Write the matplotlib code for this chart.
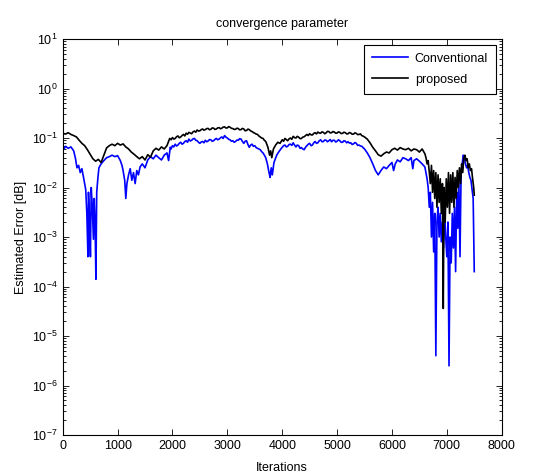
import numpy as np
import matplotlib
matplotlib.use("Agg")
import matplotlib.pyplot as plt
from matplotlib.ticker import LogLocator, NullFormatter

plt.rcParams['font.family'] = ['Liberation Sans Narrow', 'Liberation Sans', 'DejaVu Sans']

# ---------------- data ----------------
# proposed (black)
prop_x_start = [0, 50, 100, 150, 200, 250, 300, 350, 400, 450, 500, 550, 600, 650, 700, 750, 800, 850, 900,
                950, 1000, 1050, 1100, 1150, 1200, 1250, 1300, 1350, 1400, 1450, 1500, 1550, 1600, 1650,
                1700, 1750, 1800, 1850, 1900]
prop_y_start = [0.125, 0.12, 0.128, 0.118, 0.112, 0.105, 0.09, 0.078, 0.07, 0.058, 0.047, 0.038, 0.034,
                0.037, 0.032, 0.045, 0.063, 0.07, 0.075, 0.07, 0.078, 0.072, 0.076, 0.066, 0.06, 0.052,
                0.047, 0.042, 0.038, 0.042, 0.036, 0.046, 0.041, 0.055, 0.062, 0.057, 0.066, 0.06, 0.07]
prop_x_hump = [1950, 1975, 2000, 2025, 2050, 2075, 2100, 2125, 2150, 2175, 2200, 2225, 2250, 2275, 2300,
               2325, 2350, 2375, 2400, 2425, 2450, 2475, 2500, 2525, 2550, 2575, 2600, 2625, 2650, 2675,
               2700, 2725, 2750, 2775, 2800, 2825, 2850, 2875, 2900, 2925, 2950, 2975, 3000, 3025, 3050,
               3075, 3100, 3125, 3150, 3175, 3200, 3225, 3250, 3275, 3300, 3325, 3350, 3375, 3400, 3425,
               3450, 3475, 3500, 3525, 3550, 3575, 3600, 3625, 3650, 3675, 3700]
prop_y_hump = [0.098, 0.092, 0.102, 0.095, 0.098, 0.106, 0.11, 0.101, 0.105, 0.112, 0.118, 0.11, 0.125,
               0.119, 0.13, 0.126, 0.122, 0.133, 0.138, 0.131, 0.145, 0.138, 0.14, 0.148, 0.152, 0.144,
               0.148, 0.155, 0.156, 0.147, 0.15, 0.16, 0.158, 0.149, 0.152, 0.16, 0.162, 0.154, 0.158,
               0.166, 0.168, 0.159, 0.16, 0.17, 0.165, 0.157, 0.155, 0.149, 0.15, 0.158, 0.155, 0.146,
               0.148, 0.156, 0.152, 0.14, 0.142, 0.151, 0.148, 0.139, 0.135, 0.129, 0.125, 0.12, 0.118,
               0.11, 0.105, 0.1, 0.098, 0.09, 0.085]
prop_x_dip = [3740, 3770, 3790, 3810, 3840, 3880, 3920]
prop_y_dip = [0.065, 0.045, 0.055, 0.04, 0.06, 0.072, 0.082]
prop_x_plat = [3960, 3980, 4000, 4025, 4050, 4075, 4100, 4125, 4150, 4175, 4200, 4225, 4250, 4275, 4300,
               4325, 4350, 4375, 4400, 4425, 4450, 4475, 4500, 4525, 4550, 4575, 4600, 4625, 4650, 4675,
               4700, 4725, 4750, 4775, 4800, 4825, 4850, 4875, 4900, 4925, 4950, 4975, 5000, 5025, 5050,
               5075, 5100, 5125, 5150, 5175, 5200, 5225, 5250, 5275, 5300, 5325, 5350, 5375, 5400, 5425,
               5450, 5475, 5500, 5525, 5550]
prop_y_plat = [0.078, 0.085, 0.092, 0.086, 0.098, 0.093, 0.088, 0.096, 0.1, 0.094, 0.108, 0.102, 0.1,
               0.108, 0.104, 0.097, 0.098, 0.104, 0.106, 0.112, 0.118, 0.112, 0.122, 0.116, 0.115, 0.124,
               0.128, 0.121, 0.132, 0.126, 0.125, 0.133, 0.13, 0.122, 0.127, 0.136, 0.135, 0.127, 0.128,
               0.135, 0.132, 0.125, 0.126, 0.133, 0.13, 0.123, 0.124, 0.131, 0.128, 0.121, 0.122, 0.129,
               0.126, 0.119, 0.12, 0.127, 0.124, 0.117, 0.118, 0.121, 0.112, 0.109, 0.105, 0.1, 0.095]
prop_x_tail = [5600, 5650, 5700, 5750, 5800, 5850, 5900, 5950, 6000, 6050, 6100, 6150, 6200, 6250, 6300,
               6350, 6400, 6450, 6500, 6550, 6600, 6620, 6640, 6660, 6680, 6700, 6720, 6740, 6760, 6780,
               6800, 6820, 6840, 6860, 6880, 6900, 6920, 6935, 6950, 6970, 6990, 7010, 7030, 7050, 7070,
               7090, 7110, 7130, 7150, 7170, 7190, 7210, 7230, 7250, 7270, 7290, 7310, 7330, 7350, 7370,
               7390, 7410, 7430, 7450, 7470, 7490, 7500]
prop_y_tail = [0.08, 0.065, 0.055, 0.046, 0.043, 0.048, 0.052, 0.05, 0.058, 0.062, 0.057, 0.064, 0.06,
               0.058, 0.062, 0.055, 0.06, 0.058, 0.052, 0.06, 0.048, 0.04, 0.03, 0.035, 0.02, 0.012, 0.028,
               0.008, 0.022, 0.006, 0.02, 0.004, 0.018, 0.005, 0.015, 0.003, 0.012, 3.6e-5, 0.01, 0.002,
               0.015, 0.004, 0.02, 0.003, 0.018, 0.005, 0.02, 0.004, 0.016, 0.006, 0.022, 0.01, 0.025,
               0.012, 0.03, 0.02, 0.04, 0.045, 0.035, 0.038, 0.025, 0.03, 0.022, 0.024, 0.015, 0.01, 0.007]

# conventional (blue)
conv_x_start = [0, 25, 50, 100, 150, 200, 230, 260, 290, 320, 350, 380, 400, 420, 440, 460, 470, 490, 505,
                520, 540, 560, 575, 590, 605, 620, 640, 660, 700, 750, 800, 850, 900, 950, 1000, 1050, 1080,
                1100, 1130, 1150, 1170, 1200, 1230, 1260, 1290, 1320, 1350, 1380, 1410, 1450, 1500, 1550,
                1600, 1650, 1700, 1750, 1800, 1850, 1900, 1930]
conv_y_start = [0.065, 0.06, 0.068, 0.062, 0.066, 0.055, 0.04, 0.025, 0.028, 0.02, 0.024, 0.016, 0.012,
                0.009, 0.003, 0.0004, 0.008, 0.002, 0.0004, 0.01, 0.004, 0.0009, 0.006, 0.002, 0.00014,
                0.008, 0.015, 0.025, 0.03, 0.035, 0.04, 0.042, 0.045, 0.042, 0.044, 0.035, 0.028, 0.022,
                0.014, 0.006, 0.012, 0.018, 0.024, 0.014, 0.02, 0.012, 0.022, 0.018, 0.026, 0.03, 0.025,
                0.036, 0.042, 0.038, 0.045, 0.04, 0.036, 0.045, 0.05, 0.035]
conv_x_hump = [1960, 1975, 2000, 2025, 2050, 2075, 2100, 2125, 2150, 2175, 2200, 2225, 2250, 2275, 2300,
               2325, 2350, 2375, 2400, 2425, 2450, 2475, 2500, 2525, 2550, 2575, 2600, 2625, 2650, 2675,
               2700, 2725, 2750, 2775, 2800, 2825, 2850, 2875, 2900, 2925, 2950, 2975, 3000, 3025, 3050,
               3075, 3100, 3125, 3150, 3175, 3200, 3225, 3250, 3275, 3300, 3325, 3350, 3375, 3400, 3425,
               3450, 3475, 3500, 3525, 3550, 3575, 3600, 3625, 3650, 3675, 3700]
conv_y_hump = [0.065, 0.06, 0.07, 0.066, 0.075, 0.069, 0.072, 0.078, 0.082, 0.075, 0.078, 0.085, 0.088,
               0.082, 0.095, 0.087, 0.09, 0.096, 0.098, 0.09, 0.088, 0.082, 0.078, 0.083, 0.085, 0.08,
               0.09, 0.084, 0.087, 0.093, 0.092, 0.086, 0.088, 0.094, 0.098, 0.092, 0.095, 0.101, 0.105,
               0.098, 0.112, 0.104, 0.1, 0.094, 0.092, 0.086, 0.088, 0.082, 0.085, 0.091, 0.09, 0.097,
               0.095, 0.085, 0.078, 0.086, 0.088, 0.074, 0.065, 0.072, 0.075, 0.068, 0.07, 0.064, 0.062,
               0.06, 0.058, 0.053, 0.05, 0.045, 0.04]
conv_x_dip = [3730, 3760, 3780, 3800, 3820, 3850]
conv_y_dip = [0.03, 0.02, 0.016, 0.025, 0.018, 0.032]
conv_x_plat = [3900, 3925, 3950, 3975, 4000, 4025, 4050, 4075, 4100, 4125, 4150, 4175, 4200, 4225, 4250,
               4275, 4300, 4325, 4350, 4375, 4400, 4425, 4450, 4475, 4500, 4525, 4550, 4575, 4600, 4625,
               4650, 4675, 4700, 4725, 4750, 4775, 4800, 4825, 4850, 4875, 4900, 4925, 4950, 4975, 5000,
               5025, 5050, 5075, 5100, 5125, 5150, 5175, 5200, 5225, 5250, 5275, 5300, 5325, 5350, 5375,
               5400, 5425, 5450, 5475, 5500, 5525, 5550]
conv_y_plat = [0.045, 0.05, 0.055, 0.06, 0.065, 0.07, 0.072, 0.066, 0.068, 0.074, 0.075, 0.071, 0.08,
               0.072, 0.066, 0.072, 0.07, 0.062, 0.064, 0.06, 0.058, 0.065, 0.07, 0.075, 0.078, 0.07,
               0.072, 0.08, 0.085, 0.078, 0.08, 0.088, 0.092, 0.084, 0.085, 0.091, 0.09, 0.084, 0.088,
               0.093, 0.084, 0.09, 0.09, 0.083, 0.086, 0.092, 0.088, 0.082, 0.082, 0.088, 0.086, 0.08,
               0.084, 0.079, 0.08, 0.074, 0.076, 0.081, 0.078, 0.071, 0.072, 0.069, 0.068, 0.064, 0.06,
               0.055, 0.05]
conv_x_tail = [5600, 5650, 5700, 5750, 5800, 5850, 5900, 5950, 6000, 6030, 6060, 6100, 6150, 6200, 6250,
               6300, 6350, 6380, 6400, 6450, 6500, 6550, 6600, 6620, 6640, 6660, 6680, 6700, 6720, 6740,
               6760, 6780, 6800, 6820, 6840, 6860, 6880, 6900, 6920, 6940, 6960, 6980, 7000, 7020, 7040,
               7060, 7080, 7100, 7120, 7140, 7160, 7180, 7200, 7220, 7240, 7260, 7280, 7300, 7320, 7340,
               7360, 7380, 7400, 7420, 7440, 7460, 7480, 7500]
conv_y_tail = [0.04, 0.03, 0.022, 0.018, 0.022, 0.026, 0.024, 0.028, 0.032, 0.022, 0.03, 0.036, 0.033,
               0.04, 0.038, 0.035, 0.04, 0.024, 0.035, 0.038, 0.034, 0.03, 0.026, 0.02, 0.015, 0.01, 0.004,
               0.008, 0.001, 0.005, 0.0005, 0.003, 4e-6, 0.002, 0.004, 0.001, 0.003, 0.0008, 0.002, 0.0006,
               0.003, 0.001, 0.0004, 0.002, 2.5e-6, 0.001, 0.0003, 0.003, 0.0006, 0.004, 0.0002, 0.008,
               0.0015, 0.012, 0.0004, 0.02, 0.03, 0.045, 0.038, 0.03, 0.025, 0.028, 0.02, 0.016, 0.014,
               0.009, 0.006, 0.0002]

conv_dot_x = [7165, 7175]
conv_dot_y = [1e-6, 1e-6]

prop_x = prop_x_start + prop_x_hump + prop_x_dip + prop_x_plat + prop_x_tail
prop_y = prop_y_start + prop_y_hump + prop_y_dip + prop_y_plat + prop_y_tail
conv_x = conv_x_start + conv_x_hump + conv_x_dip + conv_x_plat + conv_x_tail
conv_y = conv_y_start + conv_y_hump + conv_y_dip + conv_y_plat + conv_y_tail

labels = ["Conventional", "proposed"]
title = "convergence parameter"
xlabel = "Iterations"
ylabel = "Estimated Error [dB]"
xticks = [0, 1000, 2000, 3000, 4000, 5000, 6000, 7000, 8000]

# ---------------- figure ----------------
W, H = 544, 475
fig = plt.figure(figsize=(W / 100, H / 100), dpi=100)
ax = fig.add_axes([62.7 / W, 1 - 435 / H, (501.7 - 62.7) / W, (435 - 39) / H])

ax.plot(conv_x, conv_y, color='#0000ff', lw=1.2, label=labels[0])
ax.plot(prop_x, prop_y, color='black', lw=1.2, label=labels[1])
ax.plot(conv_dot_x, conv_dot_y, color='#0000ff', lw=1.0)

ax.set_yscale('log')
ax.set_xlim(0, 8000)
ax.set_ylim(1e-7, 1e1)
ax.set_xticks(xticks)
ax.set_xticklabels([str(t) for t in xticks])
ax.yaxis.set_major_locator(LogLocator(base=10, numticks=20))
ax.yaxis.set_minor_locator(LogLocator(base=10, subs=np.arange(2, 10), numticks=100))
ax.yaxis.set_minor_formatter(NullFormatter())

ax.tick_params(which='both', direction='in', top=True, right=True, labelsize=9, width=0.6)
ax.tick_params(which='major', length=4)
ax.tick_params(which='minor', length=2)
for s in ax.spines.values():
    s.set_linewidth(0.8)

ax.set_title(title, fontsize=9, pad=9)
ax.set_xlabel(xlabel, fontsize=9, labelpad=7)
ax.set_ylabel(ylabel, fontsize=9, labelpad=4)

leg = ax.legend(loc='upper right', fontsize=9, fancybox=False, framealpha=1, edgecolor='black',
                handlelength=2.9, borderaxespad=0.45, handletextpad=0.5, labelspacing=0.72,
                borderpad=0.65)
leg.get_frame().set_linewidth(0.8)

fig.savefig("out.png", dpi=100)
